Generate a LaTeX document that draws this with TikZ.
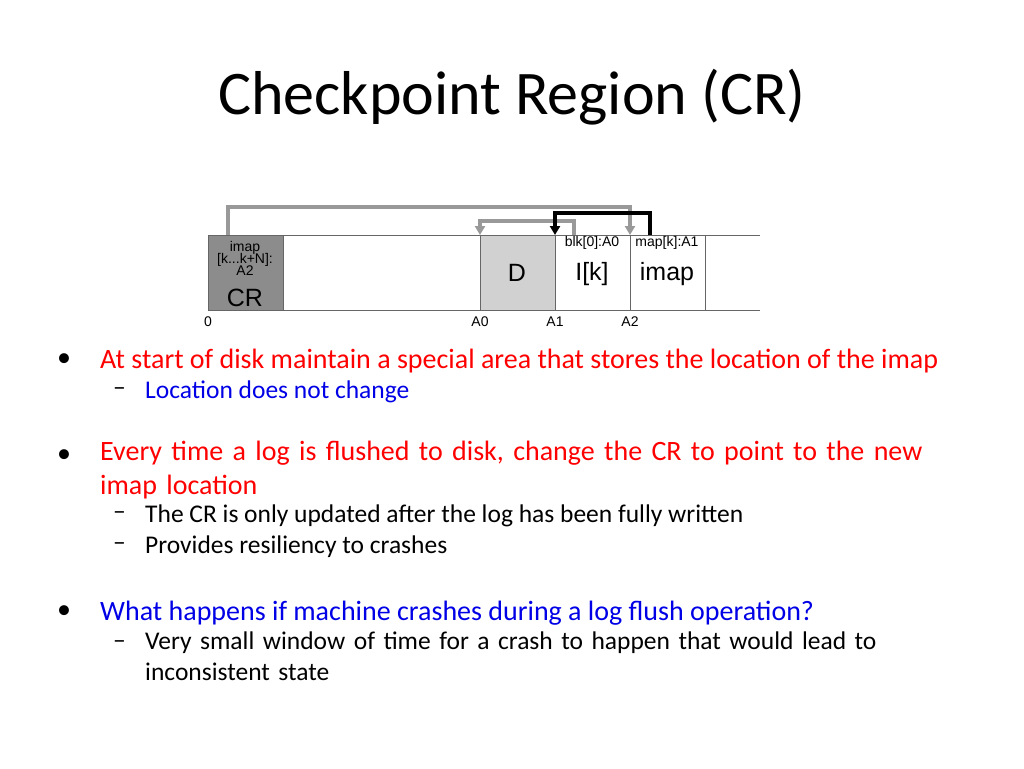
\documentclass[tikz,border=0pt]{standalone}
\usepackage{fontspec}
\setmainfont{Carlito}
\newfontfamily\arial{Liberation Sans}
\usetikzlibrary{arrows.meta}
\definecolor{bred}{RGB}{255,0,0}
\definecolor{bblue}{RGB}{0,0,230}
\begin{document}
\begin{tikzpicture}[x=1pt,y=-1pt,
  cell/.style={draw=black!60,line width=1pt},
  lbl/.style={font=\arial\fontsize{14}{14}\selectfont,inner sep=0},
  big/.style={font=\arial\fontsize{25}{26}\selectfont,inner sep=0},
  txt/.style={anchor=west,inner sep=0,align=left},
  garr/.style={draw=black!40,line width=3.5pt,-{Triangle[length=9pt,width=10pt]}},
  barr/.style={draw=black,line width=3.5pt,-{Triangle[length=9pt,width=10pt]}}]
\useasboundingbox (0,0) rectangle (1024,768);
\node[inner sep=0,font=\fontsize{62}{70}\selectfont] (title) at (512,97) {Checkpoint Region (CR)};
% disk
\fill[black!45] (208,235) rectangle (283,310);
\fill[black!18] (480,235) rectangle (555,310);
\draw[cell] (760,235) -- (208,235) -- (208,310) -- (760,310);
\draw[cell] (283,235)--(283,310) (480,235)--(480,310) (555,235)--(555,310) (630,235)--(630,310) (705,235)--(705,310);
\node[lbl,align=center] (crt) at (245,258) {imap\\[-2pt][k...k+N]:\\[-2pt]A2};
\node[big] (cr) at (245,298) {CR};
\node[big] (d) at (517,273) {D};
\node[lbl] (b0) at (592,243) {blk[0]:A0};
\node[big] (lk) at (592,274) {I[k]};
\node[lbl] (mk) at (667,243) {map[k]:A1};
\node[big] (im) at (667,274) {imap};
\node[lbl] (l0) at (208,322) {0};
\node[lbl] (la0) at (480,322) {A0};
\node[lbl] (la1) at (555,322) {A1};
\node[lbl] (la2) at (630,322) {A2};
\coordinate (s1) at (228,235); \coordinate (e1) at (630,235);
\coordinate (s2) at (574,235); \coordinate (e2) at (480,235);
\coordinate (s3) at (650,235); \coordinate (e3) at (555,235);
\draw[garr] (s1) -- ++(0,-28) -| (e1);
\draw[garr] (s2) -- ++(0,-14) -| (e2);
\draw[barr] (s3) -- ++(0,-22) -| (e3);
% bullets
\tikzset{bt/.style={font=\fontsize{28}{34}\selectfont},st/.style={font=\fontsize{25.5}{31}\selectfont}}
\node[inner sep=0,bt] (d1) at (64,360) {•};
\node[txt,text=bred,bt] (t1) at (100,361) {At start of disk maintain a special area that stores the location of the imap};
\node[txt,st] (s11) at (113,392) {–};
\node[txt,text=bblue,st] (t11) at (145,392) {Location does not change};
\node[inner sep=0,bt] (d2) at (64,456) {•};
\node[txt,text=bred,bt,anchor=north west,text width=880pt,align=left] (t2) at (100,441) {Every time a log is flushed to disk, change the CR to point to the new imap location};
\node[txt,st] (s21) at (113,516) {–};
\node[txt,st] (t21) at (145,516) {The CR is only updated after the log has been fully written};
\node[txt,st] (s22) at (113,547) {–};
\node[txt,st] (t22) at (145,547) {Provides resiliency to crashes};
\node[inner sep=0,bt] (d3) at (64,612) {•};
\node[txt,text=bblue,bt] (t3) at (100,613) {What happens if machine crashes during a log flush operation?};
\node[txt,st] (s31) at (113,645) {–};
\node[txt,st,anchor=north west,text width=760pt,align=left] (t31) at (145,632) {Very small window of time for a crash to happen that would lead to\\inconsistent state};
\end{tikzpicture}
\end{document}
